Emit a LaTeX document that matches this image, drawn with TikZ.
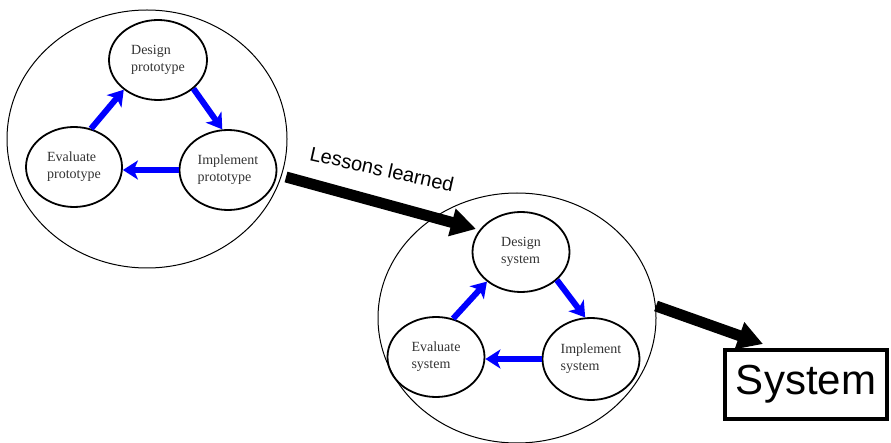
\documentclass[tikz,border=0pt]{standalone}
\usepackage{fontspec}
\setmainfont{Liberation Serif}
\newfontfamily\arialfont{Liberation Sans}
\usetikzlibrary{arrows.meta,shapes.geometric}
\begin{document}
\begin{tikzpicture}[x=1pt,y=-1pt,
  bigc/.style={draw=black, line width=1pt, ellipse, inner sep=0pt},
  phase/.style={draw=black, line width=1.8pt, ellipse, inner sep=0pt, align=left,
    font=\fontsize{14}{17}\selectfont, text=black!80},
  cyc/.style={draw=blue, line width=6pt, -{Stealth[length=15pt,width=19pt,inset=4pt]}},
  bigarrow/.style={draw=black, line width=11pt, -{Triangle[length=25pt,width=27pt]}},
  lbl/.style={font=\arialfont\fontsize{20}{20}\selectfont},
  sysbox/.style={draw=black, line width=4.5pt, minimum width=162pt, minimum height=69pt,
    inner sep=0pt, font=\arialfont\fontsize{42}{42}\selectfont},
]
\useasboundingbox (0,0) rectangle (891,443);
% prototype cycle
\node[bigc, minimum width=280pt, minimum height=258pt] (c1) at (147,139) {};
\node[phase, minimum width=98pt, minimum height=80pt] (dp) at (158,60) {Design\\prototype};
\node[phase, minimum width=96pt, minimum height=80pt] (ep) at (74,167) {Evaluate\\prototype};
\node[phase, minimum width=97pt, minimum height=80pt] (ip) at (228,170) {Implement\\prototype};
\draw[cyc] (ep.66) -- (dp.221);
\draw[cyc] (dp.-39) -- (ip.98);
\draw[cyc] (ip.west) -- (ip.west -| ep.east);
% system cycle
\node[bigc, minimum width=278pt, minimum height=250pt] (c2) at (517,318) {};
\node[phase, minimum width=97pt, minimum height=80pt] (ds) at (521,252) {Design\\system};
\node[phase, minimum width=97pt, minimum height=80pt] (es) at (436,357) {Evaluate\\system};
\node[phase, minimum width=97pt, minimum height=82pt] (is) at (591,359) {Implement\\system};
\draw[cyc] (es.66) -- (ds.221);
\draw[cyc] (ds.-38) -- (is.98);
\draw[cyc] (is.west) -- (is.west -| es.east);
% lessons learned
\coordinate (la) at (286,177);
\coordinate (lb) at (476,229);
\draw[bigarrow] (la) -- (lb);
\node[lbl, rotate=-12.5] (ll) at (382,169) {Lessons learned};
% final system
\node[sysbox] (sys) at (806,384.5) {System};
\coordinate (sa) at (656,306);
\coordinate (sb) at (763,344);
\draw[bigarrow] (sa) -- (sb);
\end{tikzpicture}
\end{document}
